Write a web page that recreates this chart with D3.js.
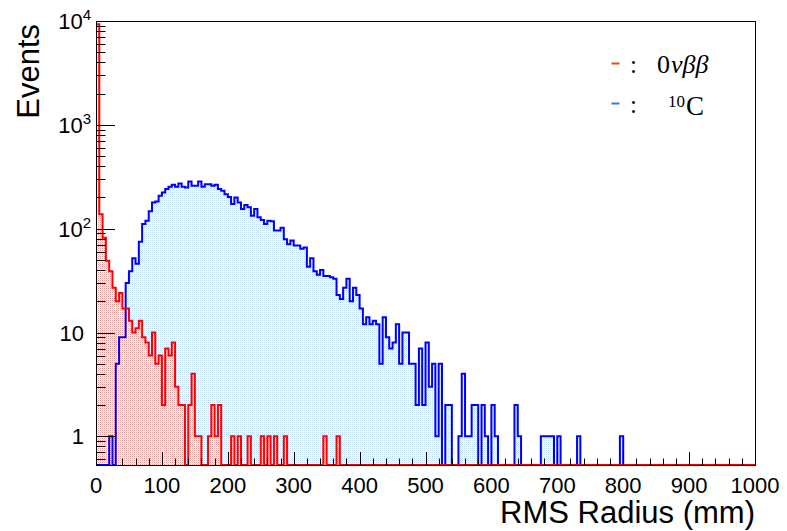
<!DOCTYPE html>
<html>
<head>
<meta charset="utf-8">
<script src="https://cdn.jsdelivr.net/npm/d3@7"></script>
<style>
	body { margin:0; background:#fff; }
	svg text { font-family: 'Liberation Sans', Arial, Helvetica, sans-serif; fill:#000; }
	.legend text { font-family: 'Liberation Serif', 'Times New Roman', serif; }
</style>
</head>
<body>
<div id="chart"></div>
<script>

// 5 mm bins from 0 to 1000 mm; bins past the end of each array are empty
const binWidth = 5;
const xRange = [0, 1000];

// 0nubb events per bin
const redCounts = [
	9300,138,82,49,39,27,20,24,17,17,
	13,10,11,13,9,8,6,10,5,6,
	2,7,6,8,3,2,2,0,2,4,
	1,1,0,0,1,2,1,2,0,0,
	0,1,0,1,0,0,1,0,0,0,
	1,0,1,0,1,0,0,1,0,0,
	0,0,0,0,0,0,0,0,0,1,
	0,0,0,1
];

// 10C events per bin
const blueCounts = [
	0,0,0,0,1,0,5,9,9,30,
	39,52,46,75,111,119,147,179,183,208,
	223,241,253,265,253,273,253,249,285,259,
	259,285,253,268,268,259,265,241,232,215,
	202,173,200,179,155,169,161,133,155,129,
	121,111,119,118,96,96,102,79,71,77,
	69,69,64,66,43,52,39,36,40,35,
	35,34,33,23,21,27,33,20,27,23,
	17,12,14,12,13,12,5,14,9,7,
	8,12,5,10,10,5,5,2,7,2,
	8,3,5,1,5,0,2,2,0,0,
	1,4,1,1,2,2,0,2,1,0,
	2,1,0,0,0,0,0,2,1,0,
	0,0,0,0,0,1,1,1,1,0,
	1,0,0,0,0,0,1,0,0,0,
	0,0,0,0,0,0,0,0,0,1
];

const xTicks = [0,100,200,300,400,500,600,700,800,900,1000];
const yTicks = [1,10,100,1000,10000];
const yTickLabels = [['1',''],['10',''],['10','2'],['10','3'],['10','4']];
const yRange = [0.53, 10000];

const legendItems = [
	{name:'0\u03bd\u03b2\u03b2', color:'#ee4422'},
	{name:'10C', color:'#3377ee'}
];

const xTitle = 'RMS Radius (mm)';
const yTitle = 'Events';

////////////////////////////////////////////////////////////////////

const W = 787, H = 531;
const frame = {l:96, r:755, t:21, b:465};

const svg = d3.select('#chart').append('svg')
	.attr('width', W)
	.attr('height', H);

svg.append('rect')
	.attr('width', W).attr('height', H)
	.attr('fill', '#fff');

const scaleX = d3.scaleLinear().domain(xRange).range([frame.l, frame.r]);
const scaleY = d3.scaleLog().domain(yRange).range([frame.b, frame.t]);

const nBins = (xRange[1]-xRange[0])/binWidth;

// dotted fills like ROOT fill style 3001
const defs = svg.append('defs');
function dotPattern(id, c1, c2){
	const p = defs.append('pattern')
		.attr('id', id)
		.attr('width', 2).attr('height', 2)
		.attr('patternUnits', 'userSpaceOnUse');
	p.append('rect').attr('x',0).attr('y',0).attr('width',1).attr('height',1).attr('fill', c1);
	p.append('rect').attr('x',1).attr('y',1).attr('width',1).attr('height',1).attr('fill', c2);
}
dotPattern('dotRed', '#f39c9c', '#fcdede');
dotPattern('dotBlue', '#bddbf9', '#e4f0fc');

defs.append('clipPath').attr('id', 'frameClip')
	.append('rect')
	.attr('x', frame.l).attr('y', frame.t)
	.attr('width', frame.r-frame.l).attr('height', frame.b-frame.t+2);

function countY(c){
	return c > 0 ? scaleY(c) : frame.b;
}

function stepPath(counts){
	const p = d3.path();
	p.moveTo(scaleX(xRange[0]), frame.b);
	for (let i = 0; i < nBins; i++) {
		const c = i < counts.length ? counts[i] : 0;
		const y = countY(c);
		p.lineTo(scaleX(i*binWidth), y);
		p.lineTo(scaleX((i+1)*binWidth), y);
	}
	p.lineTo(scaleX(xRange[1]), frame.b);
	return p.toString();
}

const plot = svg.append('g').attr('clip-path', 'url(#frameClip)');

const hists = [
	{counts: blueCounts, fill:'url(#dotBlue)', stroke:'#0000ff'},
	{counts: redCounts, fill:'url(#dotRed)', stroke:'#ff0000'}
];

plot.selectAll('.fill')
	.data(hists)
	.enter().append('path')
	.attr('class', 'fill')
	.attr('d', d => stepPath(d.counts) + 'Z')
	.attr('fill', d => d.fill)
	.attr('stroke', 'none');

////////////////////////////////////////////////////////////////////
// ticks (inside the frame)

const axes = svg.append('g').attr('stroke', '#000').attr('stroke-width', 1);

const xMinor = d3.range(xRange[0], xRange[1]+1, 20);
axes.selectAll('.xtick')
	.data(xMinor)
	.enter().append('line')
	.attr('class', 'xtick')
	.attr('x1', d => Math.round(scaleX(d))+0.5)
	.attr('x2', d => Math.round(scaleX(d))+0.5)
	.attr('y1', frame.b)
	.attr('y2', d => frame.b - (d%100===0 ? 13 : 6.5));

const yMinor = [];
[0.1,1,10,100,1000].forEach(dec => {
	for (let k = 2; k <= 9; k++) {
		const v = dec*k;
		if (v >= yRange[0] && v <= yRange[1]) yMinor.push(v);
	}
});
axes.selectAll('.yminor')
	.data(yMinor)
	.enter().append('line')
	.attr('class', 'yminor')
	.attr('x1', frame.l).attr('x2', frame.l+9.5)
	.attr('y1', d => Math.round(scaleY(d))+0.5)
	.attr('y2', d => Math.round(scaleY(d))+0.5);

axes.selectAll('.ymajor')
	.data(yTicks.filter(v => scaleY(v) >= frame.t))
	.enter().append('line')
	.attr('class', 'ymajor')
	.attr('x1', frame.l).attr('x2', frame.l+19)
	.attr('y1', d => Math.round(scaleY(d))+0.5)
	.attr('y2', d => Math.round(scaleY(d))+0.5);

svg.append('rect')
	.attr('x', frame.l+0.5).attr('y', frame.t+0.5)
	.attr('width', frame.r-frame.l).attr('height', frame.b-frame.t)
	.attr('fill', 'none')
	.attr('stroke', '#000');

// histogram outlines
plot.selectAll('.line')
	.data(hists)
	.enter().append('path')
	.attr('class', 'line')
	.attr('d', d => stepPath(d.counts))
	.attr('fill', 'none')
	.attr('stroke', d => d.stroke)
	.attr('stroke-width', 2)
	.attr('stroke-linejoin', 'miter');

////////////////////////////////////////////////////////////////////
// labels

svg.selectAll('.xlab')
	.data(xTicks)
	.enter().append('text')
	.attr('class', 'xlab')
	.attr('x', d => scaleX(d))
	.attr('y', 493)
	.attr('text-anchor', 'middle')
	.style('font-size', '22px')
	.text(d => d);

const yLab = svg.selectAll('.ylab')
	.data(yTicks)
	.enter().append('text')
	.attr('class', 'ylab')
	.attr('x', (d,i) => yTickLabels[i][1] ? 91 : 84)
	.attr('y', d => scaleY(d) + 8)
	.attr('text-anchor', 'end')
	.style('font-size', '22px');
yLab.append('tspan').text((d,i) => yTickLabels[i][0]);
yLab.append('tspan')
	.attr('dy', -9)
	.style('font-size', '15px')
	.text((d,i) => yTickLabels[i][1]);

svg.append('text')
	.attr('x', frame.r)
	.attr('y', 523)
	.attr('text-anchor', 'end')
	.style('font-size', '31px')
	.text(xTitle);

svg.append('text')
	.attr('transform', `translate(39,${frame.t+3}) rotate(-90)`)
	.attr('text-anchor', 'end')
	.style('font-size', '31px')
	.text(yTitle);

////////////////////////////////////////////////////////////////////
// legend

const legend = svg.append('g').attr('class', 'legend');
const rowY = [63.5, 103.5];

legend.selectAll('.dash')
	.data(legendItems)
	.enter().append('rect')
	.attr('class', 'dash')
	.attr('x', 611.5)
	.attr('y', (d,i) => rowY[i]-1)
	.attr('width', 8)
	.attr('height', 2)
	.attr('fill', d => d.color);

legend.selectAll('.colon')
	.data(legendItems)
	.enter().append('text')
	.attr('class', 'colon')
	.attr('x', 630)
	.attr('y', (d,i) => rowY[i]+9)
	.style('font-size', '25px')
	.text(':');

const t0 = legend.append('text')
	.attr('x', 657)
	.attr('y', rowY[0]+9)
	.style('font-size', '26px');
t0.append('tspan').text(legendItems[0].name.slice(0,1));
t0.append('tspan').attr('dx', 1).style('font-style', 'italic').text(legendItems[0].name.slice(1));

const t1 = legend.append('text')
	.attr('x', 668)
	.attr('y', rowY[1]+11)
	.style('font-size', '27px');
t1.append('tspan')
	.attr('dy', -8)
	.style('font-size', '17px')
	.text(legendItems[1].name.slice(0,2));
t1.append('tspan')
	.attr('dy', 8)
	.attr('dx', 1)
	.text(legendItems[1].name.slice(2));

</script>
</body>
</html>
